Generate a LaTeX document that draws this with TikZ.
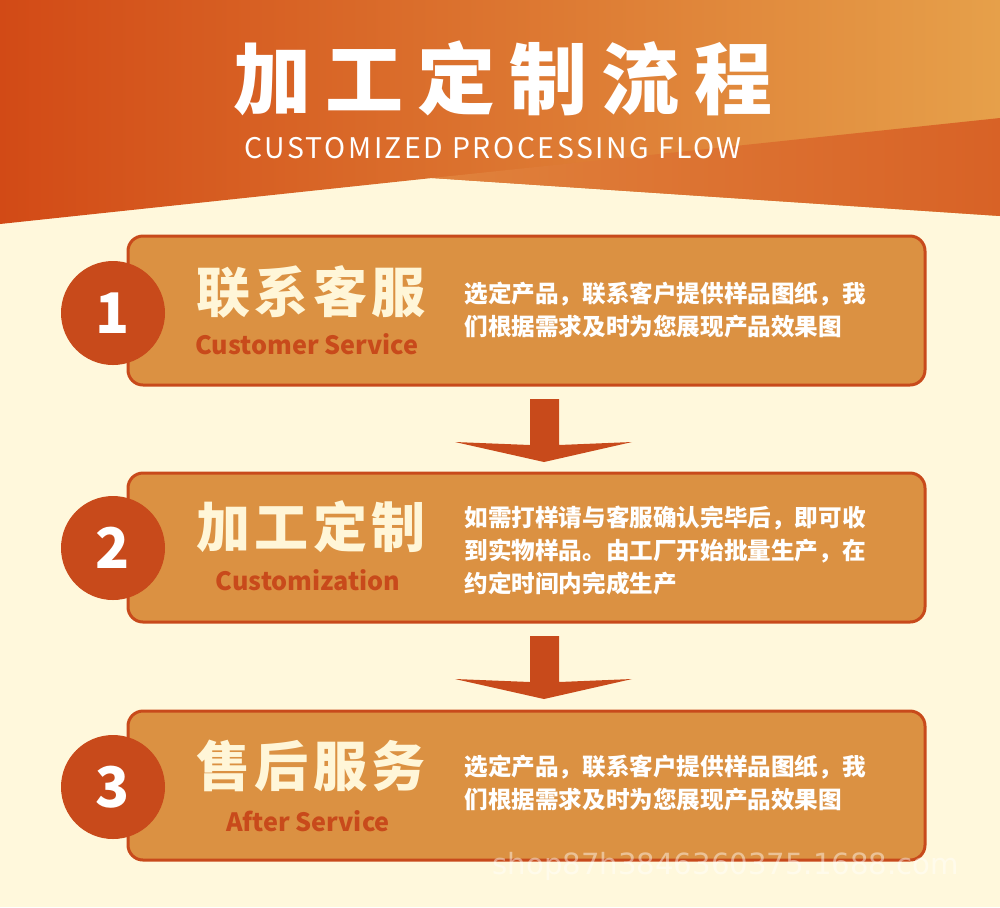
\documentclass[tikz,border=0pt]{standalone}
\usepackage{fontspec}
\setmainfont{Noto Sans CJK SC}
\newfontfamily\titlefont{Noto Sans CJK SC}[LetterSpace=18]
\newfontfamily\flowfont{Noto Sans CJK SC}[LetterSpace=9]
\newfontfamily\headfont{Noto Sans CJK SC}[LetterSpace=8]
\newfontfamily\markfont{DejaVu Sans}
\definecolor{cream}{HTML}{FFF8DC}
\definecolor{rust}{HTML}{C84A1B}
\definecolor{amber}{HTML}{DB9142}
\definecolor{paletxt}{HTML}{FFF6D8}

\tikzset{
  card/.style={draw=rust, fill=amber, line width=1.5pt, rounded corners=7.5pt,
    minimum width=398.5pt, minimum height=74.5pt, inner sep=0pt},
  badge/.style={circle, fill=rust, minimum size=52pt, inner sep=0pt,
    text=white, font=\bfseries\fontsize{28}{28}\selectfont},
  headtxt/.style={text=paletxt, inner sep=0pt, font=\headfont\bfseries\fontsize{27}{27}\selectfont},
  subtxt/.style={text=rust, inner sep=0pt, font=\bfseries\fontsize{12.6}{12.6}\selectfont},
  desctxt/.style={text=white, inner sep=0pt, anchor=west, align=left,
    font=\bfseries\fontsize{11.8}{16.5}\selectfont},
}

\begin{document}
\begin{tikzpicture}[x=0.5pt,y=-0.5pt]
\useasboundingbox (0,0) rectangle (1000,907);
\fill[cream] (0,0) rectangle (1000,907);
% header band
\shade[shading angle=-70, left color={rgb,255:red,210;green,74;blue,22}, right color={rgb,255:red,230;green,160;blue,74}]
  (0,0) -- (1000,0) -- (1000,216) -- (432,178) -- (0,224) -- cycle;
\shade[left color={rgb,255:red,224;green,130;blue,60}, right color={rgb,255:red,216;green,98;blue,38}]
  (432,178) -- (1000,118) -- (1000,216) -- cycle;
\node[text=white, inner sep=0pt, font=\titlefont\bfseries\fontsize{39}{39}\selectfont] (title) at (503,78) {加工定制流程};
\node[text=white, inner sep=0pt, font=\flowfont\fontsize{14.2}{14.2}\selectfont] (flow) at (493,148) {CUSTOMIZED PROCESSING FLOW};

% cards
\node[card] (card1) at (526.5,310.5) {};
\node[card] (card2) at (526.5,547.5) {};
\node[card] (card3) at (526.5,785.5) {};

\node[badge] (badge1) at (113,313) {1};
\node[badge] (badge2) at (113,548) {2};
\node[badge] (badge3) at (113,787) {3};

\node[headtxt] (head1) at (311,292) {联系客服};
\node[headtxt] (head2) at (311,527) {加工定制};
\node[headtxt] (head3) at (311,766) {售后服务};

\node[subtxt] (sub1) at (307,344) {Customer Service};
\node[subtxt] (sub2) at (308,580) {Customization};
\node[subtxt] (sub3) at (308,821) {After Service};

\node[desctxt] (desc1) at (464,310.5) {选定产品，联系客户提供样品图纸，我\\们根据需求及时为您展现产品效果图};
\node[desctxt] (desc2) at (464,551) {如需打样请与客服确认完毕后，即可收\\到实物样品。由工厂开始批量生产，在\\约定时间内完成生产};
\node[desctxt] (desc3) at (464,783.5) {选定产品，联系客户提供样品图纸，我\\们根据需求及时为您展现产品效果图};

% down arrows between cards
\foreach \dy in {0,237}
  \fill[rust, shift={(0,\dy)}] (530,399) -- (559,399) -- (559,445) -- (632,442)
    -- (544,462) -- (455,442) -- (530,445) -- cycle;

\node[text=white, opacity=0.45, inner sep=0pt, anchor=west, font=\markfont\fontsize{14.6}{14.6}\selectfont] (mark) at (492,866) {shop87h3846360375.1688.com};
\end{tikzpicture}
\end{document}
